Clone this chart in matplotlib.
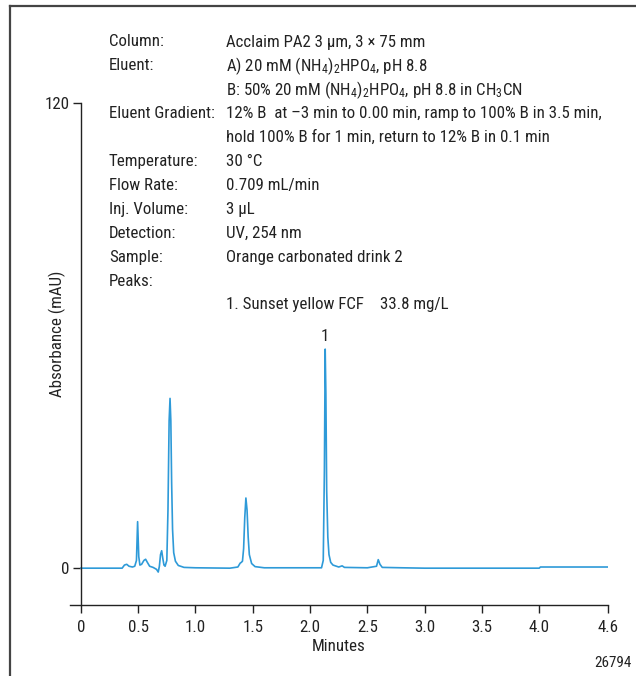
import matplotlib
matplotlib.use("Agg")
import matplotlib.pyplot as plt
from matplotlib.lines import Line2D
from matplotlib import font_manager as fm

# ---- font choice: prefer a condensed sans ----
entries = fm.fontManager.ttflist
names = {f.name for f in entries}
family = None
stretch = 'normal'
for cand in ['Liberation Sans Narrow', 'Roboto Condensed', 'Open Sans Condensed',
             'Noto Sans Condensed', 'DejaVu Sans Condensed', 'Arial Narrow']:
    if cand in names:
        family = cand
        break
if family is None:
    for f in entries:
        if ('Narrow' in f.name or 'Condensed' in f.name) and 'Mono' not in f.name \
                and 'Serif' not in f.name:
            family = f.name
            break
if family is None:
    if any(f.name == 'DejaVu Sans' and str(f.stretch) in ('condensed', 'semi-condensed')
           for f in entries):
        family = 'DejaVu Sans'
        stretch = 'condensed'
if family is None:
    family = 'Roboto' if 'Roboto' in names else 'Liberation Sans'

plt.rcParams['font.family'] = [family, 'DejaVu Sans']
plt.rcParams['font.stretch'] = stretch
plt.rcParams['mathtext.fontset'] = 'custom'
plt.rcParams['mathtext.rm'] = family
plt.rcParams['mathtext.it'] = family
plt.rcParams['mathtext.bf'] = family

# ---- data ----
time_min = [0.00, 0.36, 0.38, 0.40, 0.42, 0.45, 0.47, 0.485, 0.495, 0.505, 0.515,
            0.53, 0.55, 0.565, 0.58, 0.60, 0.63, 0.66, 0.675, 0.685, 0.695, 0.705,
            0.715, 0.725, 0.735, 0.75, 0.76, 0.77, 0.778, 0.785, 0.792, 0.80, 0.81,
            0.825, 0.85, 0.90, 1.00, 1.30, 1.37, 1.39, 1.40, 1.41, 1.42, 1.43, 1.44,
            1.45, 1.46, 1.47, 1.49, 1.52, 1.60, 1.80, 2.10, 2.115, 2.125, 2.132,
            2.138, 2.145, 2.155, 2.165, 2.18, 2.20, 2.25, 2.28, 2.30, 2.50, 2.58,
            2.595, 2.61, 2.63, 2.80, 3.00, 4.00, 4.01, 4.60]
absorbance = [0.0, 0.0, 0.8, 1.0, 0.5, 0.3, 0.5, 2.0, 12.0, 3.0, 0.8,
              1.0, 2.0, 2.3, 1.5, 0.5, 0.2, -0.3, -1.0, 0.5, 3.5, 4.5,
              2.5, 0.8, 0.5, 2.0, 15.0, 38.0, 43.8, 38.0, 22.0, 10.0, 4.0,
              1.8, 0.7, 0.2, 0.1, 0.0, 0.3, 1.3, 1.5, 1.8, 5.0, 13.0, 18.1,
              15.0, 8.0, 3.5, 1.2, 0.4, 0.1, 0.1, 0.1, 2.0, 25.0, 56.5,
              45.0, 20.0, 8.0, 3.5, 1.5, 0.8, 0.3, 0.6, 0.2, 0.1, 0.5,
              2.2, 1.0, 0.2, 0.1, 0.0, 0.0, 0.3, 0.3]

peak_numbers = ["1"]
peak_times = [2.132]
peak_label_heights = [57.8]

x_ticks = [0, 0.5, 1.0, 1.5, 2.0, 2.5, 3.0, 3.5, 4.0, 4.6]
x_tick_labels = ["0", "0.5", "1.0", "1.5", "2.0", "2.5", "3.0", "3.5", "4.0", "4.6"]
y_ticks = [0, 120]
y_tick_labels = ["0", "120"]

cond_labels = ["Column:", "Eluent:", "", "Eluent Gradient:", "", "Temperature:",
               "Flow Rate:", "Inj. Volume:", "Detection:", "Sample:", "Peaks:"]
cond_values = ["Acclaim PA2 3 µm, 3 × 75 mm",
               "A) 20 mM (NH$_4$)$_2$HPO$_4$, pH 8.8",
               "B: 50% 20 mM (NH$_4$)$_2$HPO$_4$, pH 8.8 in CH$_3$CN",
               "12% B  at –3 min to 0.00 min, ramp to 100% B in 3.5 min,",
               "hold 100% B for 1 min, return to 12% B in 0.1 min",
               "30 °C", "0.709 mL/min", "3 µL", "UV, 254 nm",
               "Orange carbonated drink 2", ""]
peak_names = ["1. Sunset yellow FCF"]
peak_concs = ["33.8 mg/L"]

# ---- figure ----
W, H = 636, 676
fig = plt.figure(figsize=(W / 100, H / 100), dpi=100)
renderer = fig.canvas.get_renderer()

# size text so that the long gradient line has about the reference width
probe = fig.text(0, 0, cond_values[3], fontsize=10)
wpx = probe.get_window_extent(renderer).width
probe.remove()
fs = min(12.5, 10 * 372.0 / wpx)
txt_color = '#222222'

ax = fig.add_axes([70 / W, 1 - 605 / H, (608 - 70) / W, (605 - 103) / H])

line_color = '#2E9AD8'
ax.plot(time_min, absorbance, color=line_color, lw=1.2, solid_joinstyle='round')

ax.set_xlim(-0.095, 4.6)
ax.set_ylim(-9.5, 120)
ax.spines['top'].set_visible(False)
ax.spines['right'].set_visible(False)
ax.spines['left'].set_position(('data', 0))
for s in ('left', 'bottom'):
    ax.spines[s].set_linewidth(1.0)
    ax.spines[s].set_color(txt_color)

ax.set_xticks(x_ticks)
ax.set_xticklabels(x_tick_labels)
ax.set_yticks(y_ticks)
ax.set_yticklabels(y_tick_labels)
ax.tick_params(axis='both', direction='out', length=6, width=1.0, color=txt_color,
               labelsize=fs, labelcolor=txt_color)
ax.tick_params(axis='x', pad=5)
ax.tick_params(axis='y', pad=2)

ax.set_xlabel("Minutes", fontsize=fs, color=txt_color, labelpad=3)
fig.text(57 / W, 1 - 334 / H, "Absorbance (mAU)", rotation=90, ha='center',
         va='center', fontsize=fs, color=txt_color)

for num, t, h in zip(peak_numbers, peak_times, peak_label_heights):
    ax.text(t, h, num, ha='center', va='bottom', fontsize=fs, color=txt_color)

# conditions block
y0, dy = 42, 23.9
for i, (lab, val) in enumerate(zip(cond_labels, cond_values)):
    yy = 1 - (y0 + i * dy) / H
    if lab:
        fig.text(109 / W, yy, lab, ha='left', va='center', fontsize=fs, color=txt_color)
    if val:
        fig.text(226 / W, yy, val, ha='left', va='center', fontsize=fs, color=txt_color)
for j, (nm, cc) in enumerate(zip(peak_names, peak_concs)):
    yy = 1 - (y0 + (len(cond_labels) + j) * dy) / H
    fig.text(226 / W, yy, nm, ha='left', va='center', fontsize=fs, color=txt_color)
    fig.text(380 / W, yy, cc, ha='left', va='center', fontsize=fs, color=txt_color)

fig.text(632 / W, 1 - 663 / H, "26794", ha='right', va='center', fontsize=fs * 0.9,
         color=txt_color)

# frame lines (left and top)
fig.add_artist(Line2D([10 / W, 10 / W], [0, 1 - 6 / H], transform=fig.transFigure,
                      color='#444444', lw=1.6))
fig.add_artist(Line2D([10 / W, 1], [1 - 6 / H, 1 - 6 / H], transform=fig.transFigure,
                      color='#444444', lw=1.6))

fig.savefig("out.png", dpi=100)
